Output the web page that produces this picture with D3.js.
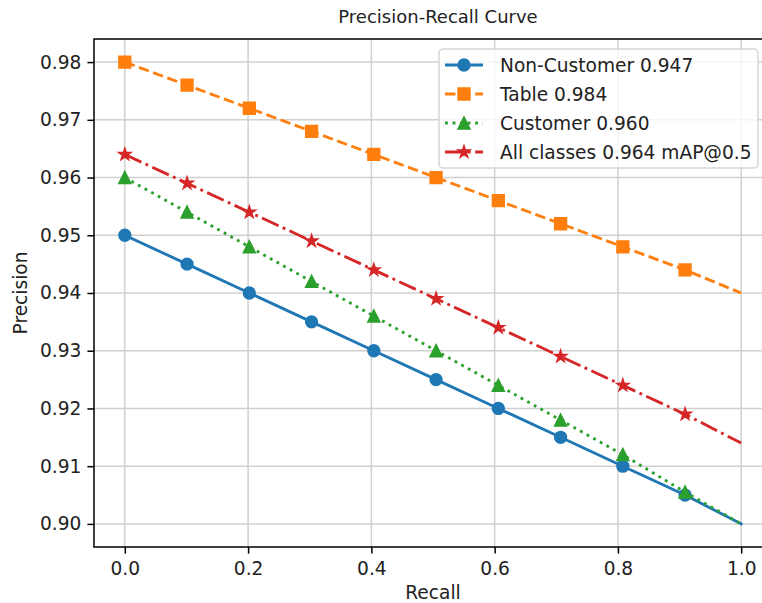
<!DOCTYPE html>
<html>
<head>
<meta charset="utf-8">
<script src="https://cdn.jsdelivr.net/npm/d3@7"></script>
<style>
  html, body { margin: 0; padding: 0; background: #fff; }
  svg { display: block; font-family: "DejaVu Sans", sans-serif; }
</style>
</head>
<body>
<svg id="chart" width="762" height="603"></svg>
<script>
// ---- Data ----
const recall = [0, 0.101, 0.202, 0.303, 0.404, 0.505, 0.606, 0.707, 0.808, 0.909, 1.0];
const nonCustomer = [0.950, 0.945, 0.940, 0.935, 0.930, 0.925, 0.920, 0.915, 0.910, 0.905, 0.900];
const table = [0.980, 0.976, 0.972, 0.968, 0.964, 0.960, 0.956, 0.952, 0.948, 0.944, 0.940];
const customer = [0.960, 0.954, 0.948, 0.942, 0.936, 0.930, 0.924, 0.918, 0.912, 0.9055, 0.900];
const allClasses = [0.964, 0.959, 0.954, 0.949, 0.944, 0.939, 0.934, 0.929, 0.924, 0.919, 0.914];
const seriesNames = ["Non-Customer 0.947", "Table 0.984", "Customer 0.960", "All classes 0.964 mAP@0.5"];
const xTicks = [0.0, 0.2, 0.4, 0.6, 0.8, 1.0];
const yTicks = [0.90, 0.91, 0.92, 0.93, 0.94, 0.95, 0.96, 0.97, 0.98];

(function () {
// ---- Styles ----
const styles = [
  { color: "#1f77b4", dash: null, marker: "circle" },
  { color: "#ff7f0e", dash: "10.5,4.6", marker: "square" },
  { color: "#2ca02c", dash: "2.85,4.7", marker: "triangle" },
  { color: "#d62728", dash: "18.2,4.6,2.85,4.6", marker: "star" }
];
const seriesData = [nonCustomer, table, customer, allClasses];

const svg = d3.select("#chart");
const pL = 94, pR = 772, pT = 39, pB = 547;
const FS = 18.6;

const x = d3.scaleLinear().domain([-0.05, 1.05]).range([pL, pR]);
const y = d3.scaleLinear().domain([0.896, 0.984]).range([pB, pT]);

svg.append("defs").append("clipPath").attr("id", "plotclip")
  .append("rect").attr("x", pL).attr("y", pT).attr("width", pR - pL).attr("height", pB - pT);

// grid
const grid = svg.append("g");
grid.selectAll(".gx").data(xTicks).enter().append("line")
  .attr("x1", d => x(d)).attr("x2", d => x(d)).attr("y1", pT).attr("y2", pB)
  .attr("stroke", "#d0d0d0").attr("stroke-width", 1.5);
grid.selectAll(".gy").data(yTicks).enter().append("line")
  .attr("y1", d => y(d)).attr("y2", d => y(d)).attr("x1", pL).attr("x2", pR)
  .attr("stroke", "#d0d0d0").attr("stroke-width", 1.5);

// axes
const xAxis = d3.axisBottom(x).tickValues(xTicks).tickFormat(d3.format(".1f")).tickSize(6.6).tickPadding(6);
const yAxis = d3.axisLeft(y).tickValues(yTicks).tickFormat(d3.format(".2f")).tickSize(6.6).tickPadding(6);
const gx = svg.append("g").attr("transform", `translate(0,${pB})`).call(xAxis);
const gy = svg.append("g").attr("transform", `translate(${pL},0)`).call(yAxis);
[gx, gy].forEach(g => {
  g.select(".domain").remove();
  g.selectAll(".tick line").attr("stroke", "#000").attr("stroke-width", 1.5);
  g.selectAll(".tick text").attr("fill", "#222").style("font-size", FS + "px").style("font-family", "DejaVu Sans");
});
gx.selectAll(".tick text").attr("dy", "0.75em").attr("y", 14);

// spines
svg.append("rect").attr("x", pL).attr("y", pT).attr("width", pR - pL).attr("height", pB - pT)
  .attr("fill", "none").attr("stroke", "#000").attr("stroke-width", 1.5);

function markerPath(type, s) {
  const r = s / 2;
  if (type === "circle") return d3.symbol().type(d3.symbolCircle).size(Math.PI * r * r)();
  if (type === "square") return `M${-r},${-r}H${r}V${r}H${-r}Z`;
  if (type === "triangle") return `M0,${-r}L${r},${r}L${-r},${r}Z`;
  if (type === "star") {
    const inner = r * 0.381966;
    let p = "";
    for (let i = 0; i < 10; i++) {
      const rad = i % 2 === 0 ? r : inner;
      const a = Math.PI / 5 * i - Math.PI / 2;
      p += (i === 0 ? "M" : "L") + (rad * Math.cos(a)).toFixed(2) + "," + (rad * Math.sin(a)).toFixed(2);
    }
    return p + "Z";
  }
}
const msize = 11.4;

const plot = svg.append("g").attr("clip-path", "url(#plotclip)");
const line = d3.line().x(d => x(d[0])).y(d => y(d[1]));
seriesData.forEach((vals, i) => {
  const st = styles[i];
  const pts = recall.map((r, k) => [r, vals[k]]);
  const g = plot.append("g");
  g.append("path").attr("d", line(pts)).attr("fill", "none")
    .attr("stroke", st.color).attr("stroke-width", 2.85)
    .attr("stroke-dasharray", st.dash).attr("stroke-linecap", st.dash ? "butt" : "square");
  g.selectAll("path.m").data(pts.slice(0, 10)).enter().append("path").attr("class", "m")
    .attr("transform", d => `translate(${x(d[0])},${y(d[1])})`)
    .attr("d", markerPath(st.marker, msize))
    .attr("fill", st.color).attr("stroke", st.color).attr("stroke-width", 1.9);
});

// title & axis labels
svg.append("text").attr("x", 438).attr("y", 23).attr("text-anchor", "middle")
  .style("font-size", "18px").attr("fill", "#222").text("Precision-Recall Curve");
svg.append("text").attr("x", 433).attr("y", 599).attr("text-anchor", "middle")
  .style("font-size", FS + "px").attr("fill", "#222").text("Recall");
svg.append("text").attr("transform", `translate(27,${(pT + pB) / 2}) rotate(-90)`).attr("text-anchor", "middle")
  .style("font-size", FS + "px").attr("fill", "#222").text("Precision");

// legend
const lg = svg.append("g");
lg.append("rect").attr("x", 439).attr("y", 49).attr("width", 319).attr("height", 119).attr("rx", 4)
  .attr("fill", "#fff").attr("fill-opacity", 0.8).attr("stroke", "#d6d6d6").attr("stroke-width", 1.5);
seriesNames.forEach((name, i) => {
  const st = styles[i];
  const cy = 65 + i * 29;
  lg.append("line").attr("x1", 445).attr("x2", 483).attr("y1", cy).attr("y2", cy)
    .attr("stroke", st.color).attr("stroke-width", 2.85).attr("stroke-dasharray", st.dash);
  lg.append("path").attr("transform", `translate(464,${cy})`).attr("d", markerPath(st.marker, msize))
    .attr("fill", st.color).attr("stroke", st.color).attr("stroke-width", 1.9);
  lg.append("text").attr("x", 500).attr("y", cy).attr("dy", "0.36em")
    .style("font-size", FS + "px").attr("fill", "#222").text(name);
});
})();
</script>
</body>
</html>
